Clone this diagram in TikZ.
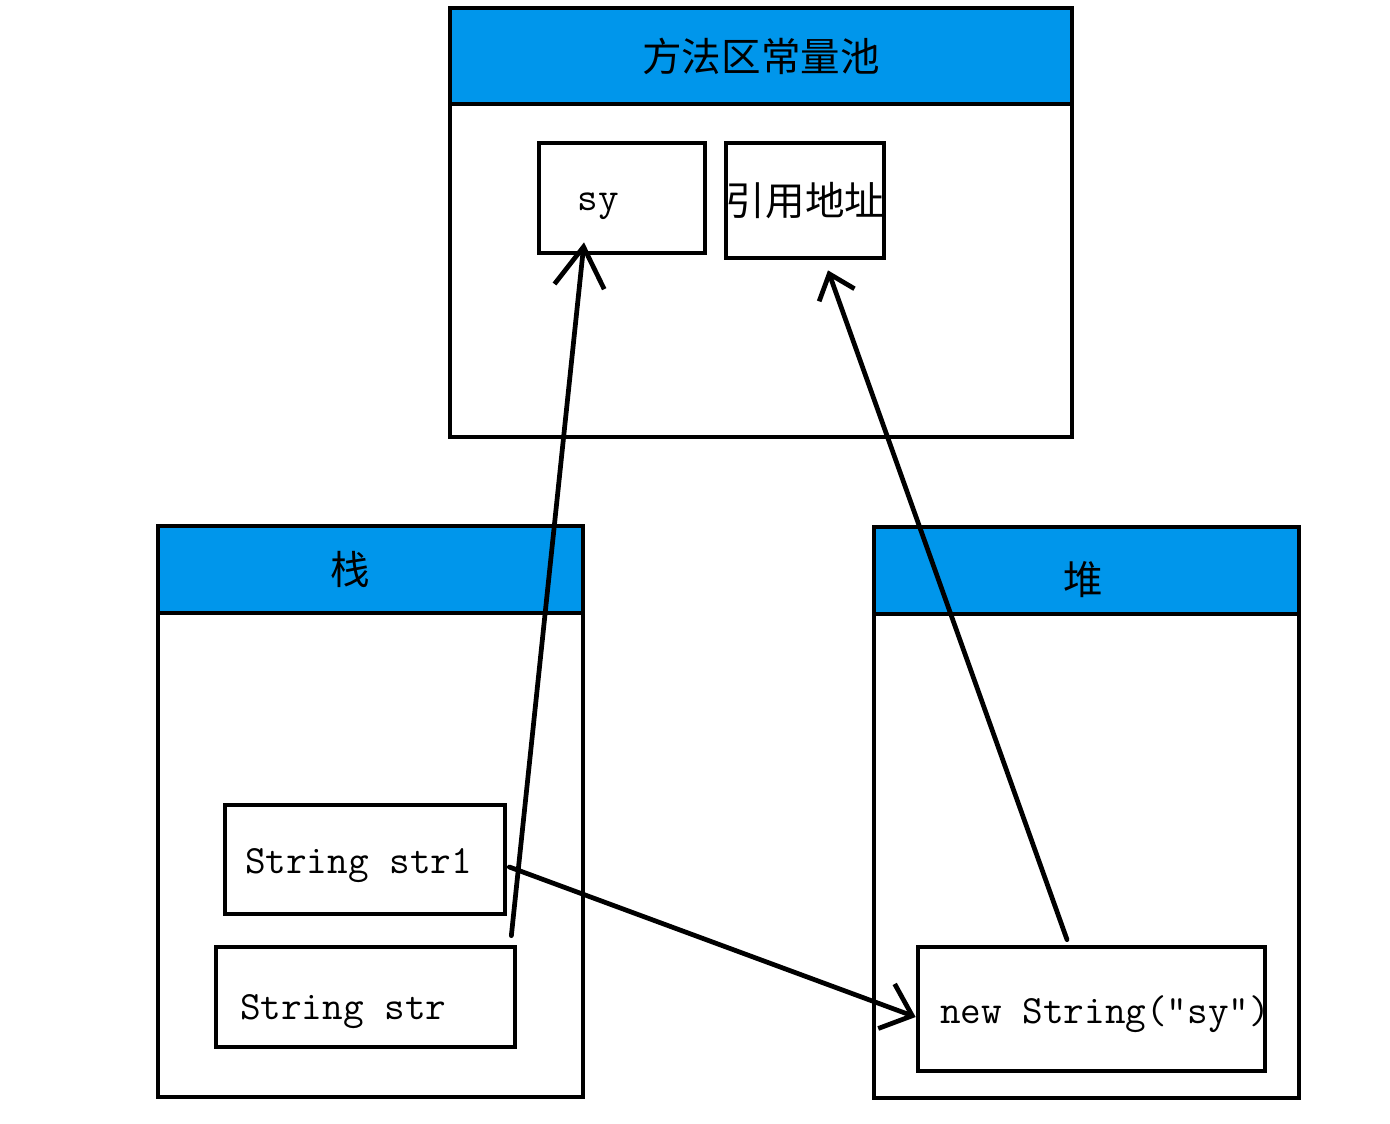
\documentclass[tikz,border=0pt]{standalone}
\usepackage{fontspec}
\newfontfamily\cjk{Noto Sans CJK SC}
\usetikzlibrary{arrows.meta}
\definecolor{headblue}{RGB}{0,150,235}

\begin{document}
\begin{tikzpicture}[x=0.02cm, y=-0.02cm, line width=0.095cm]
        \tikzstyle{area}=[rectangle,draw=black,inner sep=0pt]
        \tikzstyle{head}=[rectangle,draw=black,fill=headblue,inner sep=0pt,font=\cjk\fontsize{22.5}{26}\selectfont]
        \tikzstyle{cell}=[rectangle,draw=black,fill=white,inner sep=0pt]
        \tikzstyle{code}=[inner sep=0pt,font=\ttfamily\fontsize{22.8}{26}\selectfont]
        \tikzstyle{ref}=[-{Straight Barb[length=0.8cm,width=1.0cm]}, line cap=round]

        \useasboundingbox (0,0) rectangle (1390,1123);

        % method area
        \node[area, minimum width=12.44cm, minimum height=8.58cm] (pool) at (761,222.5) {};
        \node[head, minimum width=12.44cm, minimum height=1.92cm] (poolhead) at (761,56) {方法区常量池};
        \node[cell, minimum width=3.32cm, minimum height=2.2cm] (sy) at (622,198) {};
        \node[code] (sytxt) at ([xshift=-0.48cm,yshift=-0.16cm]sy.center) {sy};
        \node[cell, minimum width=3.12cm, minimum height=2.3cm, font=\cjk\fontsize{22.5}{26}\selectfont] (addr) at (805,200.5) {引用地址};

        % stack
        \node[area, minimum width=8.5cm, minimum height=11.42cm] (stack) at (370.5,811.5) {};
        \node[head, minimum width=8.5cm, minimum height=1.74cm] (stackhead) at (370.5,569.5) {栈\hspace*{0.8cm}};
        \node[cell, minimum width=5.6cm, minimum height=2.18cm] (str1) at (365,859.5) {};
        \node[code, anchor=west] (str1txt) at ([xshift=0.4cm,yshift=-0.13cm]str1.west) {String str1};
        \node[cell, minimum width=5.98cm, minimum height=2.0cm] (str) at (365.5,997) {};
        \node[code, anchor=west] (strtxt) at ([xshift=0.48cm,yshift=-0.29cm]str.west) {String str};

        % heap
        \node[area, minimum width=8.5cm, minimum height=11.42cm] (heap) at (1086.5,812.5) {};
        \node[head, minimum width=8.5cm, minimum height=1.74cm] (heaphead) at (1086.5,570.5) {};
        \node[head, draw=none, fill=none] (heaptxt) at ([xshift=-0.06cm,yshift=-0.18cm]heaphead.center) {堆};
        \node[cell, minimum width=6.94cm, minimum height=2.48cm] (newstr) at (1091.5,1009) {};
        \node[code, anchor=west] (newstrtxt) at ([xshift=0.44cm,yshift=-0.1cm]newstr.west) {new String(”sy”)};

        \draw[ref] ([xshift=-0.12cm,yshift=0.18cm]str.north east) -- ([xshift=-0.76cm,yshift=0.26cm]sy.south);
        \draw[ref, -{Straight Barb[length=0.45cm,width=0.75cm]}] ([xshift=-0.49cm,yshift=0.1cm]newstr.north) -- ([xshift=0.46cm,yshift=-0.2cm]addr.south);
        \draw[ref, -{Straight Barb[length=0.55cm,width=0.95cm]}] ([xshift=0.04cm,yshift=-0.15cm]str1.east) -- ([yshift=-0.16cm]newstr.west);
\end{tikzpicture}
\end{document}
